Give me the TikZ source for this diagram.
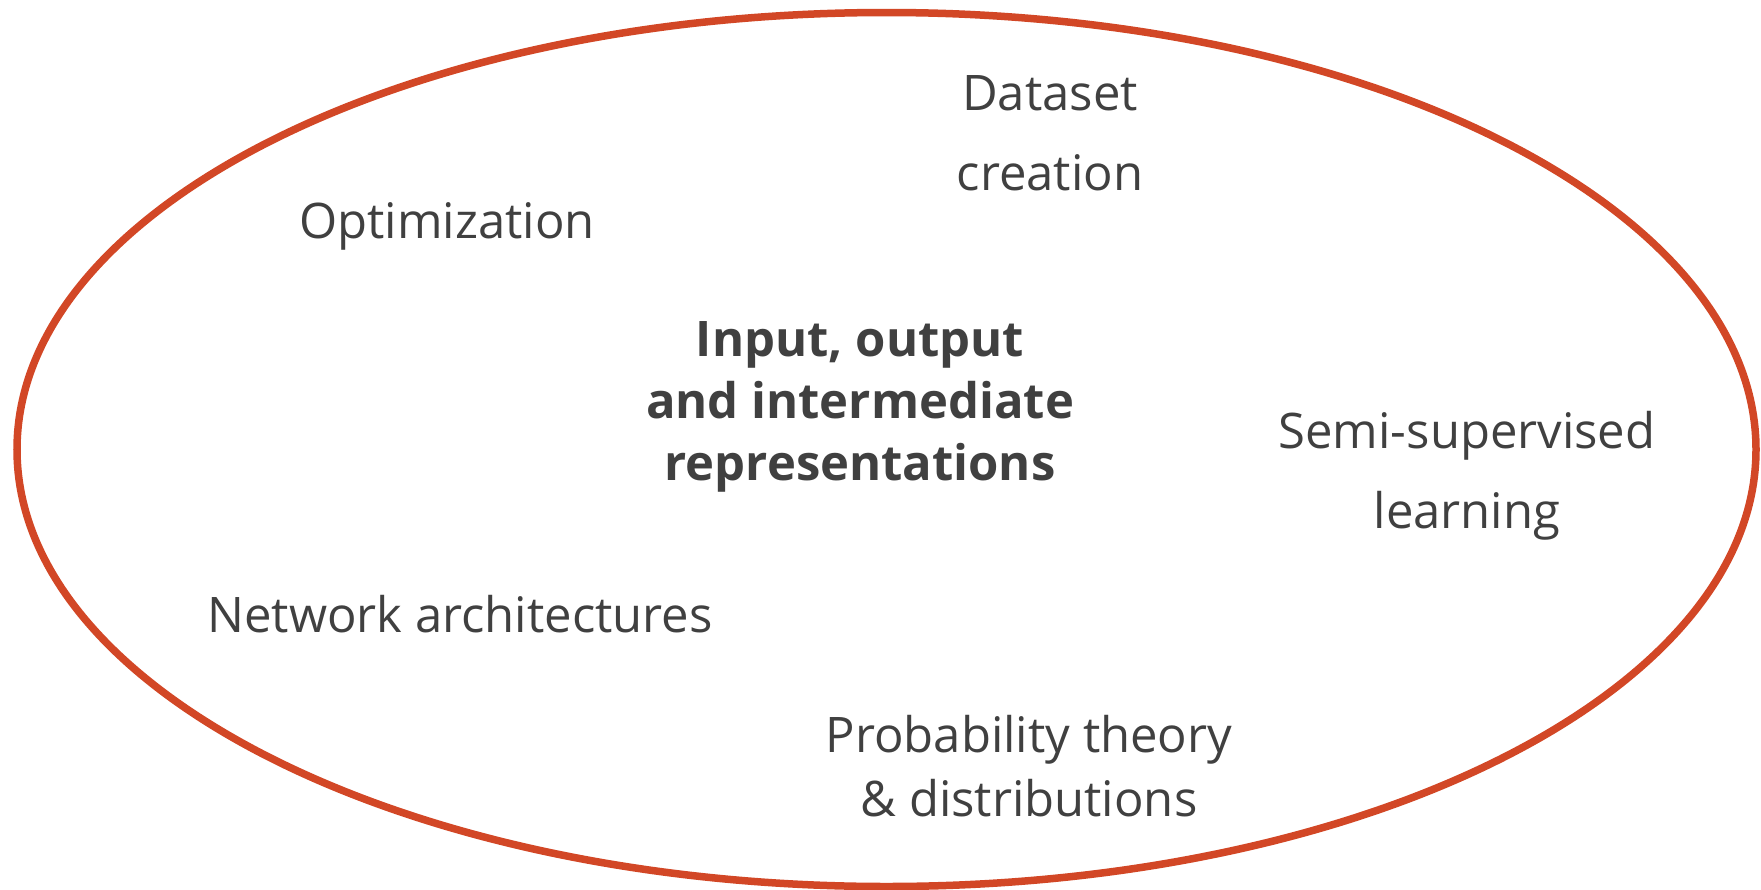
\documentclass[tikz,border=0pt]{standalone}
\usepackage{fontspec}
\setmainfont{Open Sans}
\definecolor{ringred}{HTML}{D24726}
\definecolor{labelgray}{HTML}{404040}
\begin{document}
\begin{tikzpicture}[x=1pt,y=-1pt,
  topic/.style={text=labelgray,inner sep=0pt,align=center},
  core/.style={topic,font=\bfseries}]
\useasboundingbox (0,0) rectangle (1761,889);
% outer ring
\draw[ringred,line width=7.5pt] (886.5,449.5) ellipse [x radius=869.5pt,y radius=437pt];
% labels
\node[core,font=\bfseries\fontsize{49}{62}\selectfont] (core) at (860,406.5)
  {Input, output\\and intermediate\\representations};
\node[topic,font=\fontsize{49}{80}\selectfont] (data) at (1050,133) {Dataset\\creation};
\node[topic,font=\fontsize{49}{60}\selectfont,anchor=base] (opt) at (447,238) {Optimization};
\node[topic,font=\fontsize{49}{80}\selectfont] (semi) at (1467,475.5) {Semi-supervised\\learning};
\node[topic,font=\fontsize{49}{60}\selectfont,anchor=base] (net) at (460,632) {Network architectures};
\node[topic,font=\fontsize{49}{64}\selectfont] (prob) at (1029,766) {Probability theory\\\& distributions};
\end{tikzpicture}
\end{document}
